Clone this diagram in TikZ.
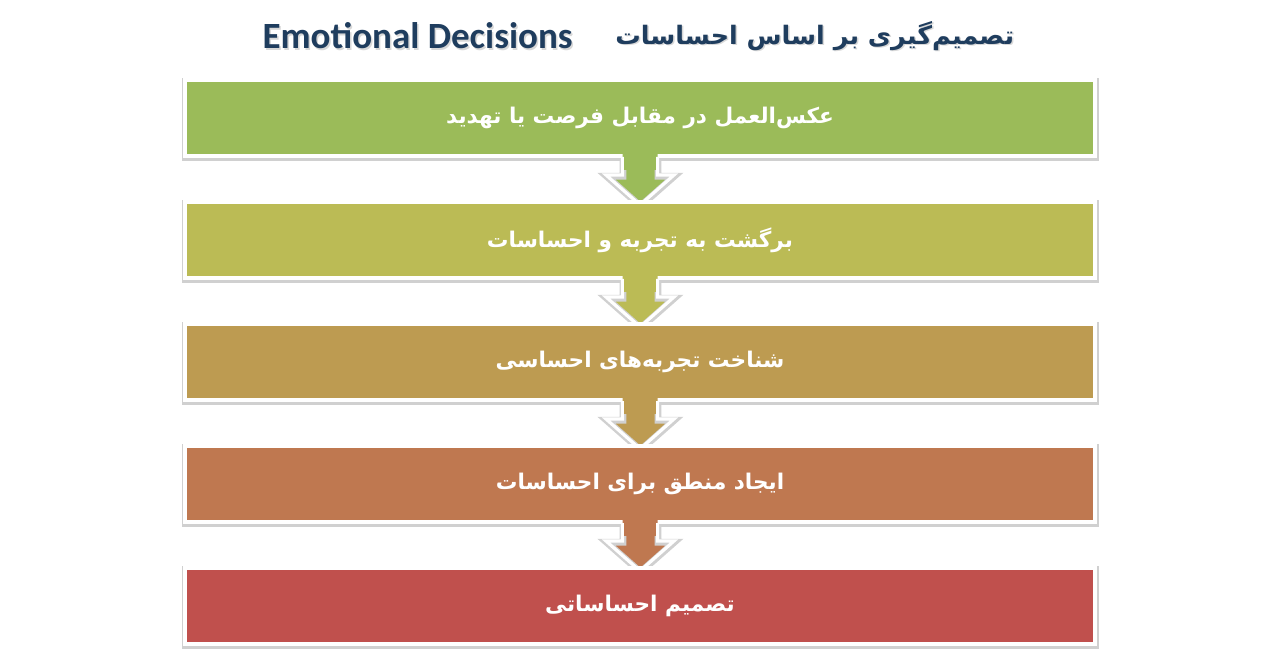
\documentclass[tikz,border=0pt]{standalone}
\usepackage{fontspec}
\usetikzlibrary{calc}
\TeXXeTstate=1
\setmainfont{Carlito}
\newfontfamily\arabicfont[Script=Arabic]{DejaVu Sans}
\definecolor{cA}{HTML}{9BBB59}
\definecolor{cB}{HTML}{BBBB55}
\definecolor{cC}{HTML}{BD9B51}
\definecolor{cD}{HTML}{BF7850}
\definecolor{cE}{HTML}{C0504D}
\definecolor{titlecol}{HTML}{1F3D5E}
\definecolor{shade}{HTML}{D0D0D0}
\tikzset{
  softedge/.style={preaction={draw=shade, line width=3.4pt, transform canvas={xshift=0.2pt, yshift=-0.6pt}}},
  stepbox/.style={rectangle, draw=white, line width=2pt, minimum width=455pt, minimum height=38pt, inner sep=0pt,
    softedge, text=white, font=\arabicfont\bfseries\fontsize{10.8}{13}\selectfont},
  arrowfill/.style={draw=none},
  arrowline/.style={draw=white, line width=1.6pt, line join=miter, softedge},
  titletext/.style={text=titlecol, inner sep=0pt},
}
\newcommand{\flowarr}[2]{%
  \fill[#2] ($(#1.south)+(-17.5,-4)$) -- ($(#1.south)+(-17.5,17)$) -- ($(#1.south)+(-34,17)$)
    -- ($(#1.south)+(0,47)$) -- ($(#1.south)+(34,17)$) -- ($(#1.south)+(17.5,17)$) -- ($(#1.south)+(17.5,-4)$) -- cycle;
  \draw[arrowline] ($(#1.south)+(-17.5,-1)$) -- ($(#1.south)+(-17.5,17)$) -- ($(#1.south)+(-34,17)$)
    -- ($(#1.south)+(0,47)$) -- ($(#1.south)+(34,17)$) -- ($(#1.south)+(17.5,17)$) -- ($(#1.south)+(17.5,-1)$);
  \fill[#2] ($(#1.south)+(-16,-4)$) rectangle ($(#1.south)+(16,12)$);}
\newcommand{\lbl}[1]{\raisebox{1.3pt}{\beginR #1\endR}}
\begin{document}
\begin{tikzpicture}[x=0.5pt,y=-0.5pt]
\useasboundingbox (0,0) rectangle (1280,652);
\fill[white] (0,0) rectangle (1280,652);
% title
\node[titletext, anchor=east, text=gray!50, opacity=0.6, font=\bfseries\fontsize{18.5}{22}\selectfont] at (574.5,37.5) {Emotional Decisions};
\node[titletext, anchor=east, font=\bfseries\fontsize{18.5}{22}\selectfont] (tEn) at (573,36) {Emotional Decisions};
\node[titletext, anchor=west, text=gray!50, opacity=0.6, font=\arabicfont\bfseries\fontsize{12.7}{16}\selectfont] at (616.5,37.5) {\beginR تصمیم‌گیری بر اساس احساسات\endR};
\node[titletext, anchor=west, font=\arabicfont\bfseries\fontsize{12.7}{16}\selectfont] (tFa) at (615,36) {\beginR تصمیم‌گیری بر اساس احساسات\endR};
% boxes and arrows
\node[stepbox, fill=cA] (b1) at (640,118) {\lbl{عکس‌العمل در مقابل فرصت یا تهدید}};
\flowarr{b1}{cA}
\node[stepbox, fill=cB] (b2) at (640,240) {\lbl{برگشت به تجربه و احساسات}};
\flowarr{b2}{cB}
\node[stepbox, fill=cC] (b3) at (640,362) {\lbl{شناخت تجربه‌های احساسی}};
\flowarr{b3}{cC}
\node[stepbox, fill=cD] (b4) at (640,484) {\lbl{ایجاد منطق برای احساسات}};
\flowarr{b4}{cD}
\node[stepbox, fill=cE] (b5) at (640,606) {\lbl{تصمیم احساساتی}};
\end{tikzpicture}
\end{document}
